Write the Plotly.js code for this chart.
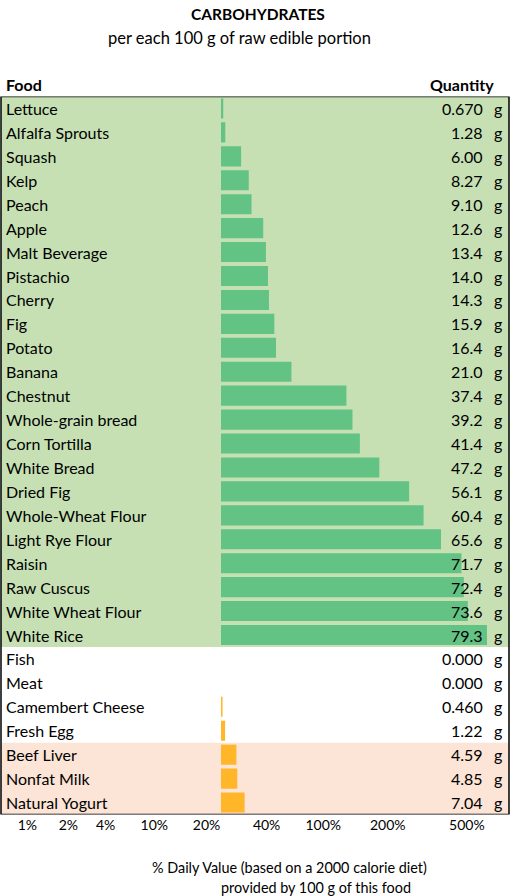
<!DOCTYPE html>
<html>
<head>
<meta charset="utf-8">
<script src="https://cdn.plot.ly/plotly-3.0.1.min.js"></script>
<style>html,body{margin:0;padding:0;background:#fff}#chart{width:511px;height:896px}</style>
</head>
<body>
<div id="chart"></div>
<script>
// ---- data ----
const foods = ["Lettuce","Alfalfa Sprouts","Squash","Kelp","Peach","Apple","Malt Beverage","Pistachio","Cherry","Fig","Potato","Banana","Chestnut","Whole-grain bread","Corn Tortilla","White Bread","Dried Fig","Whole-Wheat Flour","Light Rye Flour","Raisin","Raw Cuscus","White Wheat Flour","White Rice","Fish","Meat","Camembert Cheese","Fresh Egg","Beef Liver","Nonfat Milk","Natural Yogurt"];
const carbs = [0.670,1.28,6.00,8.27,9.10,12.6,13.4,14.0,14.3,15.9,16.4,21.0,37.4,39.2,41.4,47.2,56.1,60.4,65.6,71.7,72.4,73.6,79.3,0.000,0.000,0.460,1.22,4.59,4.85,7.04];
const groups = ["plant","plant","plant","plant","plant","plant","plant","plant","plant","plant","plant","plant","plant","plant","plant","plant","plant","plant","plant","plant","plant","plant","plant","animal","animal","animal","animal","dairy","dairy","dairy"];
const tickLabels = ["1%","2%","4%","10%","20%","40%","100%","200%","500%"];
const tickGrams = [-57.75,-45.5,-34.4,-19.9,-4.3,13.6,30.5,49.7,73.3];

// ---- styles ----
const FONT = "Lato, 'Open Sans', sans-serif";
const barColor = {plant:"#63c384", animal:"#ffb628", dairy:"#ffb628"};
const rowColor = {plant:"#c6e0b4", animal:"#ffffff", dairy:"#fce4d6"};
const fmt = v => v === 0 ? "0.000" : v.toPrecision(3);

const H = 896;
const yTop = 96.5, yBot = 814.5;
const yDomain = [1 - yBot/H, 1 - yTop/H];

const shapes = [];
// row background bands
let start = 0;
for (let i = 1; i <= foods.length; i++) {
  if (i === foods.length || groups[i] !== groups[start]) {
    shapes.push({type:"rect", layer:"below", xref:"paper", yref:"y",
      x0:0, x1:1, y0:start-0.5, y1:i-0.5,
      fillcolor:rowColor[groups[start]], line:{width:0}});
    start = i;
  }
}
shapes.push({type:"rect", layer:"above", xref:"paper", yref:"y",
  x0:0, x1:1, y0:-0.5, y1:foods.length-0.5,
  fillcolor:"rgba(0,0,0,0)", line:{color:"#000", width:1.5}});

const FS = 16;
const annotations = [];
foods.forEach((f, i) => {
  annotations.push({xref:"paper", yref:"y", x:0.005, y:i, text:f, showarrow:false,
    xanchor:"left", yanchor:"middle", font:{family:FONT, size:FS, color:"#000"}});
  annotations.push({xref:"x", yref:"y", x:78.6, y:i, text:fmt(carbs[i]), showarrow:false,
    xanchor:"right", yanchor:"middle", font:{family:FONT, size:FS, color:"#000"}});
  annotations.push({xref:"x", yref:"y", x:80.7, y:i, text:"g", showarrow:false,
    xanchor:"left", yanchor:"middle", font:{family:FONT, size:FS, color:"#000"}});
});
annotations.push({xref:"paper", yref:"paper", x:0.005, y:1-85/H, text:"<b>Food</b>", showarrow:false,
  xanchor:"left", yanchor:"middle", font:{family:FONT, size:FS, color:"#000"}});
annotations.push({xref:"paper", yref:"paper", x:498/511, y:1-85/H, text:"<b>Quantity</b>", showarrow:false,
  xanchor:"right", yanchor:"middle", font:{family:FONT, size:FS, color:"#000"}});
annotations.push({xref:"paper", yref:"paper", x:259/511, y:1-14/H, text:"<b>CARBOHYDRATES</b>", showarrow:false,
  xanchor:"center", yanchor:"middle", font:{family:FONT, size:15.5, color:"#000"}});
annotations.push({xref:"paper", yref:"paper", x:240/511, y:1-38/H, text:"per each 100 g of raw edible portion", showarrow:false,
  xanchor:"center", yanchor:"middle", font:{family:FONT, size:16.5, color:"#000"}});
annotations.push({xref:"paper", yref:"paper", x:290/511, y:1-867/H, text:"% Daily Value (based on a 2000 calorie diet)", showarrow:false,
  xanchor:"center", yanchor:"middle", font:{family:FONT, size:14.4, color:"#000"}});
annotations.push({xref:"paper", yref:"paper", x:317/511, y:1-887/H, text:"provided by 100 g of this food", showarrow:false,
  xanchor:"center", yanchor:"middle", font:{family:FONT, size:14.4, color:"#000"}});

const trace = {
  type:"bar", orientation:"h",
  x:carbs, y:foods.map((f,i)=>i),
  marker:{color:groups.map(g=>barColor[g]), line:{width:0}},
  width:0.84, hoverinfo:"skip"
};

const pxPerG = 3.354, zeroPx = 221;
const layout = {
  width:511, height:H,
  margin:{l:1, r:2, t:0, b:0},
  paper_bgcolor:"#fff", plot_bgcolor:"rgba(0,0,0,0)",
  showlegend:false,
  xaxis:{range:[(1-zeroPx)/pxPerG, (509-zeroPx)/pxPerG], showgrid:false, zeroline:false,
    showline:false, tickmode:"array", tickvals:tickGrams, ticktext:tickLabels,
    ticks:"", tickfont:{family:FONT, size:14, color:"#000"}, anchor:"y", fixedrange:true},
  yaxis:{domain:yDomain, range:[foods.length-0.5, -0.5], showgrid:false, zeroline:false,
    showticklabels:false, ticks:"", fixedrange:true},
  shapes:shapes, annotations:annotations
};
Plotly.newPlot("chart", [trace], layout, {staticPlot:true});
</script>
</body>
</html>
